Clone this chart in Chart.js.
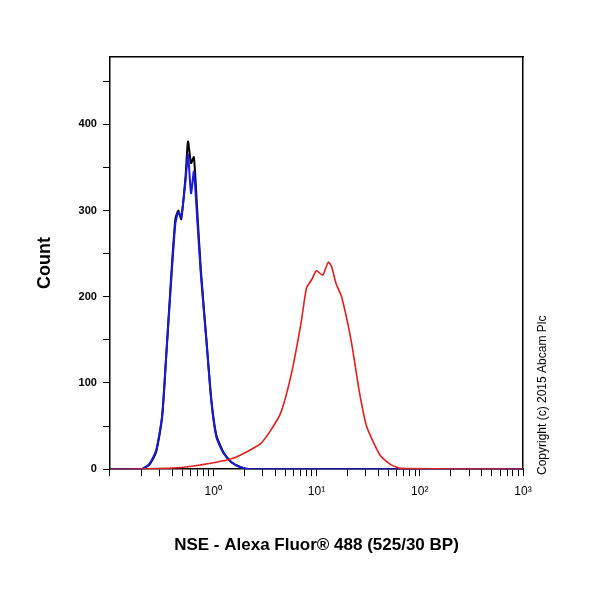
<!DOCTYPE html>
<html>
<head>
<meta charset="utf-8">
<script src="https://cdn.jsdelivr.net/npm/chart.js@4/dist/chart.umd.min.js"></script>
<style>
  html, body { margin: 0; padding: 0; background: #fff; }
  #wrap { width: 600px; height: 600px; }
</style>
</head>
<body>
<div id="wrap"><canvas id="flow"></canvas></div>
<script>
// fluorescence (log scale) vs count
const blackX = [0.1, 0.2, 0.24, 0.28, 0.32, 0.35, 0.39, 0.43, 0.46, 0.49, 0.54, 0.57, 0.61, 0.65, 0.70, 0.76, 0.86, 0.96, 1.07, 1.25, 1.5, 1.87, 2.3, 1000];
const blackY = [0, 0, 5, 20, 60, 130, 220, 290, 300, 290, 340, 380, 355, 362, 300, 230, 150, 80, 40, 20, 8, 2, 0, 0];
const blueX  = [0.1, 0.2, 0.24, 0.28, 0.32, 0.35, 0.39, 0.43, 0.46, 0.49, 0.54, 0.57, 0.61, 0.65, 0.70, 0.76, 0.86, 0.96, 1.07, 1.25, 1.5, 1.87, 2.3, 1000];
const blueY  = [0, 0, 6, 22, 62, 130, 215, 285, 298, 292, 335, 365, 320, 345, 290, 225, 148, 78, 38, 19, 8, 2, 0, 0];
const redX   = [0.1, 0.16, 0.49, 0.76, 1.07, 1.5, 2.1, 2.9, 3.6, 4.5, 5.7, 7.1, 8, 9, 10, 11.5, 13, 14, 15.5, 17.5, 21.6, 26, 30.5, 36, 42, 53, 66, 1000];
const redY   = [0, 0, 2, 5, 8, 12, 20, 30, 45, 65, 110, 170, 210, 220, 230, 225, 240, 235, 215, 200, 150, 90, 50, 30, 15, 5, 1, 0];
const yTicks = [0, 100, 200, 300, 400];
const supers = { '-1': '⁻¹', '0': '⁰', '1': '¹', '2': '²', '3': '³' };

const pts = (xs, ys) => xs.map((x, i) => ({ x: x, y: ys[i] }));

const copyright = {
    id: 'copyright',
    afterDraw(chart) {
        const c = chart.ctx;
        c.save();
        c.translate(543, 475);
        c.rotate(-Math.PI / 2);
        c.font = '12px Arial, "Liberation Sans"';
        c.fillStyle = '#000';
        c.textBaseline = 'middle';
        c.fillText('Copyright (c) 2015 Abcam Plc', 0, 0);
        c.restore();
    }
};

new Chart(document.getElementById('flow').getContext('2d'), {
    type: 'line',
    data: {
        datasets: [
            { data: pts(redX, redY), borderColor: '#e41e1e', borderWidth: 1.6 },
            { data: pts(blueX, blueY), borderColor: '#1a1adc', borderWidth: 2 },
            { data: pts(blackX, blackY), borderColor: '#000', borderWidth: 2 }
        ]
    },
    options: {
        responsive: true,
        maintainAspectRatio: false,
        animation: false,
        elements: { point: { radius: 0 }, line: { tension: 0.2 } },
        layout: { padding: { top: 49, right: 69, left: 30, bottom: 40 } },
        plugins: { legend: { display: false }, tooltip: { enabled: false } },
        scales: {
            x: {
                type: 'logarithmic',
                min: 0.1, max: 1000,
                border: { color: '#000', width: 1.5 },
                grid: { drawOnChartArea: false, color: '#000', tickLength: 7 },
                afterBuildTicks: axis => {
                    const t = [];
                    for (let e = -1; e < 3; e++)
                        for (let m = 1; m < 10; m++) t.push({ value: m * Math.pow(10, e) });
                    t.push({ value: 1000 });
                    axis.ticks = t;
                },
                ticks: {
                    autoSkip: false, maxRotation: 0, color: '#000',
                    font: { size: 12, family: 'Arial, "Liberation Sans"' },
                    padding: 8,
                    callback: v => {
                        const e = Math.log10(v);
                        if (Math.abs(e - Math.round(e)) < 1e-6 && e >= 0) return '10' + supers[String(Math.round(e))];
                        return '';
                    }
                },
                title: {
                    display: true, text: 'NSE - Alexa Fluor® 488 (525/30 BP)', color: '#000',
                    font: { size: 17, weight: 'bold', family: 'Arial, "Liberation Sans"' },
                    padding: { top: 29 }
                }
            },
            y: {
                min: 0, max: 478,
                border: { color: '#000', width: 1.5 },
                grid: { drawOnChartArea: false, color: '#000', tickLength: 7 },
                afterBuildTicks: axis => {
                    const t = [];
                    for (let v = 0; v <= 450; v += 50) t.push({ value: v });
                    axis.ticks = t;
                },
                ticks: {
                    color: '#000', padding: 6,
                    font: { size: 11, weight: 'bold', family: 'Arial, "Liberation Sans"' },
                    callback: v => yTicks.includes(v) ? String(v) : ''
                },
                title: {
                    display: true, text: 'Count', color: '#000',
                    font: { size: 18, weight: 'bold', family: 'Arial, "Liberation Sans"' },
                    padding: { bottom: 17 }
                }
            },
            y2: {
                position: 'right', min: 0, max: 478,
                border: { color: '#000', width: 1.5 },
                grid: { display: false }, ticks: { display: false }
            },
            x2: {
                position: 'top', type: 'logarithmic', min: 0.1, max: 1000,
                border: { color: '#000', width: 1.5 },
                grid: { display: false }, ticks: { display: false }
            }
        }
    },
    plugins: [copyright]
});
</script>
</body>
</html>
